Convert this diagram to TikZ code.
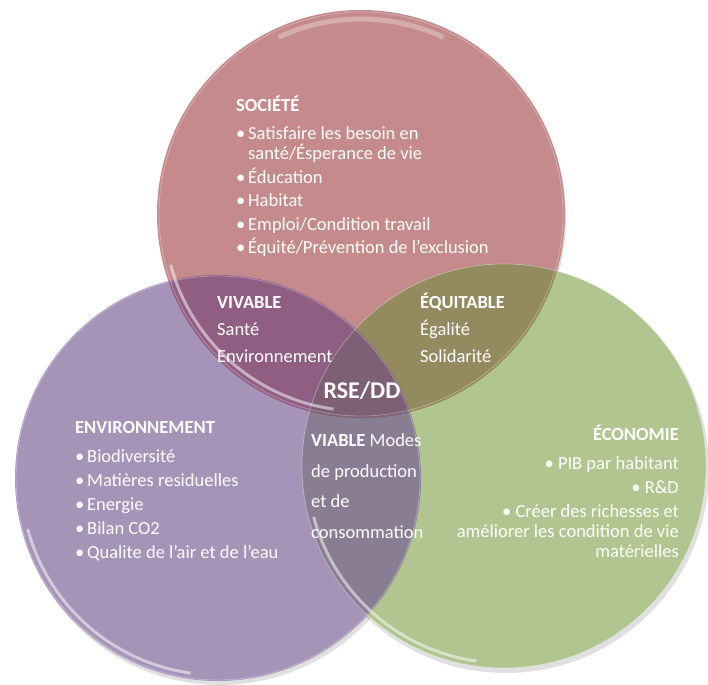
\documentclass[tikz,border=0pt]{standalone}
\usepackage{fontspec}
\setmainfont{Carlito}
\usetikzlibrary{calc,positioning}
\definecolor{rose}{HTML}{C58A8B}
\definecolor{mauve}{HTML}{A593B8}
\definecolor{vert}{HTML}{B0C58F}
\definecolor{rosemauve}{HTML}{915E83}
\definecolor{roseevert}{HTML}{948A60}
\definecolor{mauvevert}{HTML}{897D93}
\definecolor{centre}{HTML}{7D5F76}
\tikzset{
  texte/.style={text=white, inner sep=0pt, align=left,
    font=\fontsize{18.5}{19.5}\selectfont},
  duo/.style={texte, font=\fontsize{18.5}{27}\selectfont},
  reflet/.style={white, line width=3pt, opacity=.5},
  ombre/.style={black, opacity=.12},
}
\newcommand{\puce}[1]{\makebox[12pt][l]{\textbullet}#1}
\newcommand{\suite}[1]{\hspace*{12pt}#1}
\begin{document}
\begin{tikzpicture}[x=1pt,y=-1pt]
\useasboundingbox (0,0) rectangle (708,684);
\fill[white] (0,0) rectangle (708,684);
\coordinate (soc) at (361,214);
\coordinate (env) at (218,478);
\coordinate (eco) at (504,466);
\foreach \c in {soc,env,eco}
  \fill[ombre] ($(\c)+(2,4)$) circle (203pt);
\fill[rose] (soc) circle (204pt);
\fill[mauve] (env) circle (203pt);
\fill[vert] (eco) circle (202pt);
\begin{scope}
  \clip (env) circle (203pt);
  \fill[mauvevert] (eco) circle (202pt);
\end{scope}
\begin{scope}
  \clip (soc) circle (204pt);
  \fill[rosemauve] (env) circle (203pt);
  \fill[roseevert] (eco) circle (202pt);
  \clip (env) circle (203pt);
  \fill[centre] (eco) circle (202pt);
\end{scope}
\foreach \c in {soc,env,eco} {
  \draw[reflet] (\c) ++(195:197pt) arc[start angle=195, end angle=262, radius=197pt];
  \draw[white, opacity=.3, line width=.8pt] (\c) circle (202pt);
}
\draw[white, opacity=.3, line width=5pt] (soc) ++(65:195pt) arc[start angle=65, end angle=115, radius=195pt];
\node[texte, anchor=base west] (societe) at (236,254)
  {\textbf{SOCIÉTÉ}\\[8.5pt]
   \puce{Satisfaire les besoin en}\\
   \suite{santé/Ésperance de vie}\\[4.5pt]
   \puce{Éducation}\\[4pt]
   \puce{Habitat}\\[4pt]
   \puce{Emploi/Condition travail}\\[4pt]
   \puce{Équité/Prévention de l'exclusion}};
\node[texte, anchor=base west] (environnement) at (75,558)
  {\textbf{ENVIRONNEMENT}\\[9pt]
   \puce{Biodiversité}\\[4.5pt]
   \puce{Matières residuelles}\\[4.5pt]
   \puce{Energie}\\[4.5pt]
   \puce{Bilan CO2}\\[4.5pt]
   \puce{Qualite de l’air et de l’eau}};
\node[texte, align=right, anchor=base east] (economie) at (679,557)
  {\textbf{ÉCONOMIE}\\[9pt]
   \textbullet\ PIB par habitant\\[4.5pt]
   \textbullet\ R\&D\\[4.5pt]
   \textbullet\ Créer des richesses et\\[1pt]
   améliorer les condition de vie\\
   matérielles};
\node[duo, anchor=base west] (vivable) at (217,362)
  {\textbf{VIVABLE}\\Santé\\Environnement};
\node[duo, anchor=base west] (equitable) at (420,362)
  {\textbf{ÉQUITABLE}\\Égalité\\Solidarité};
\node[texte, font=\fontsize{18.5}{30.5}\selectfont, anchor=base west] (viable) at (311,538)
  {\textbf{VIABLE} Modes\\de production\\et de\\consommation};
\node[texte, font=\bfseries\fontsize{24}{28}\selectfont, anchor=base] (rsedd) at (362,398) {RSE/DD};
\end{tikzpicture}
\end{document}
